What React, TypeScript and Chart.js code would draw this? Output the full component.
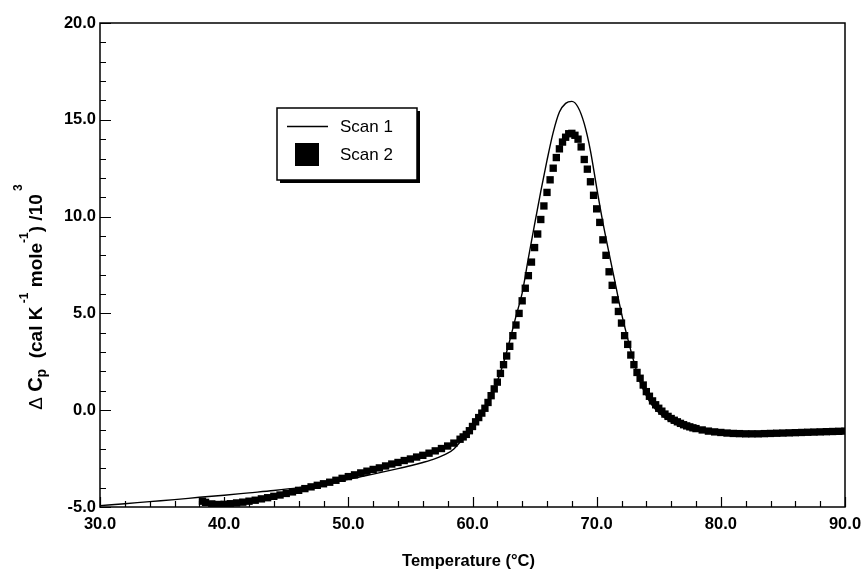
import React, { useEffect, useRef } from "react";
import { Chart, registerables } from "chart.js";

Chart.register(...registerables);

// ---- data ----
const scan1Temp = [30, 32, 34, 36, 38, 40, 42, 44, 46, 48, 50, 52, 54, 55, 56, 57, 58, 58.5, 59, 59.5, 60, 60.5, 61, 61.5, 62, 62.5, 63, 63.5, 64, 64.5, 65, 65.5, 66, 66.5, 67, 67.5, 68, 68.5, 69, 69.5, 70, 70.5, 71, 71.5, 72, 72.5, 73, 73.5, 74, 74.5, 75, 75.5, 76, 77, 78, 79, 80, 82, 84, 86, 88, 90];
const scan1Cp = [-4.93, -4.83, -4.72, -4.62, -4.5, -4.39, -4.27, -4.15, -4.0, -3.8, -3.57, -3.3, -3.02, -2.87, -2.7, -2.5, -2.22, -2.0, -1.65, -1.25, -0.8, -0.3, 0.2, 0.8, 1.5, 2.45, 3.6, 4.85, 6.05, 7.85, 9.6, 11.3, 12.9, 14.35, 15.4, 15.85, 15.95, 15.65, 14.8, 13.4, 11.5, 9.7, 8.1, 6.55, 5.0, 3.7, 2.5, 1.45, 0.75, 0.22, -0.12, -0.4, -0.6, -0.88, -1.03, -1.12, -1.18, -1.23, -1.2, -1.16, -1.12, -1.08];

const scan2Temp = [38.25, 38.5, 39, 39.5, 40, 40.5, 41, 41.5, 42, 42.5, 43, 43.5, 44, 44.5, 45, 45.5, 46, 46.5, 47, 47.5, 48, 48.5, 49, 49.5, 50, 50.5, 51, 51.5, 52, 52.5, 53, 53.5, 54, 54.5, 55, 55.5, 56, 56.5, 57, 57.5, 58, 58.5, 59, 59.25, 59.5, 59.75, 60, 60.25, 60.5, 60.75, 61, 61.25, 61.5, 61.75, 62, 62.25, 62.5, 62.75, 63, 63.25, 63.5, 63.75, 64, 64.25, 64.5, 64.75, 65, 65.25, 65.5, 65.75, 66, 66.25, 66.5, 66.75, 67, 67.25, 67.5, 67.75, 68, 68.25, 68.5, 68.75, 69, 69.25, 69.5, 69.75, 70, 70.25, 70.5, 70.75, 71, 71.25, 71.5, 71.75, 72, 72.25, 72.5, 72.75, 73, 73.25, 73.5, 73.75, 74, 74.25, 74.5, 74.75, 75, 75.25, 75.5, 75.75, 76, 76.25, 76.5, 76.75, 77, 77.25, 77.5, 77.75, 78, 78.5, 79, 79.5, 80, 80.5, 81, 81.5, 82, 82.5, 83, 83.5, 84, 84.5, 85, 85.5, 86, 86.5, 87, 87.5, 88, 88.5, 89, 89.5, 90];
const scan2Cp = [-4.7, -4.76, -4.84, -4.87, -4.86, -4.83, -4.79, -4.75, -4.7, -4.65, -4.58, -4.52, -4.45, -4.38, -4.3, -4.22, -4.14, -4.05, -3.96, -3.88, -3.8, -3.72, -3.62, -3.52, -3.43, -3.34, -3.24, -3.15, -3.06, -2.98, -2.88, -2.78, -2.7, -2.6, -2.52, -2.42, -2.33, -2.22, -2.1, -1.98, -1.85, -1.7, -1.5, -1.38, -1.25, -1.06, -0.84, -0.6, -0.38, -0.15, 0.1, 0.4, 0.75, 1.1, 1.45, 1.9, 2.35, 2.8, 3.3, 3.85, 4.4, 5.0, 5.65, 6.3, 6.95, 7.65, 8.4, 9.1, 9.85, 10.55, 11.25, 11.9, 12.5, 13.05, 13.5, 13.85, 14.1, 14.28, 14.3, 14.2, 14.0, 13.6, 12.95, 12.45, 11.8, 11.1, 10.4, 9.7, 8.8, 8.0, 7.15, 6.45, 5.7, 5.1, 4.5, 3.85, 3.4, 2.85, 2.35, 1.95, 1.65, 1.3, 0.96, 0.72, 0.48, 0.28, 0.1, -0.05, -0.2, -0.32, -0.43, -0.52, -0.6, -0.68, -0.75, -0.81, -0.86, -0.91, -0.95, -1.02, -1.08, -1.12, -1.15, -1.18, -1.2, -1.21, -1.22, -1.22, -1.22, -1.21, -1.2, -1.19, -1.18, -1.17, -1.16, -1.15, -1.14, -1.13, -1.12, -1.11, -1.1, -1.09, -1.08];

const xMin = 30;
const xMax = 90;
const xMajorStep = 10;
const xMinorStep = 2;
const yMin = -5;
const yMax = 20;
const yMajorStep = 5;
const yMinorStep = 1;

const legendLabels = ["Scan 1", "Scan 2"];
const xTitle = "Temperature (\u00B0C)";

const FONT = "'Liberation Sans', Arial, Helvetica, sans-serif";

const framePlugin = {
  id: "frameAndExtras",
  afterDraw(chart: any) {
    const { ctx, chartArea: a, scales } = chart;
    const xs = scales.x;
    const ys = scales.y;
    ctx.save();
    ctx.strokeStyle = "#000";
    ctx.lineWidth = 1.5;
    ctx.strokeRect(a.left, a.top, a.right - a.left, a.bottom - a.top);

    // inward ticks
    ctx.lineWidth = 1.2;
    ctx.beginPath();
    for (let v = xMin; v <= xMax + 1e-9; v += xMinorStep) {
      const px = Math.round(xs.getPixelForValue(v)) + 0.5;
      const major = Math.abs(v % xMajorStep) < 1e-9;
      ctx.moveTo(px, a.bottom);
      ctx.lineTo(px, a.bottom - (major ? 10 : 6));
    }
    for (let v = yMin; v <= yMax + 1e-9; v += yMinorStep) {
      const py = Math.round(ys.getPixelForValue(v)) + 0.5;
      const major = Math.abs(v % yMajorStep) < 1e-9;
      ctx.moveTo(a.left, py);
      ctx.lineTo(a.left + (major ? 11 : 6), py);
    }
    ctx.stroke();

    // legend box
    const lx = 277, ly = 108, lw = 140, lh = 72;
    ctx.fillStyle = "#000";
    ctx.fillRect(lx + lw, ly + 3, 3, lh);
    ctx.fillRect(lx + 3, ly + lh, lw, 3);
    ctx.fillStyle = "#fff";
    ctx.fillRect(lx, ly, lw, lh);
    ctx.lineWidth = 1.5;
    ctx.strokeRect(lx, ly, lw, lh);
    ctx.beginPath();
    ctx.moveTo(287, 126.5);
    ctx.lineTo(328, 126.5);
    ctx.lineWidth = 1.3;
    ctx.stroke();
    ctx.fillStyle = "#000";
    ctx.fillRect(295, 143, 24, 23);
    ctx.font = `17px ${FONT}`;
    ctx.textBaseline = "middle";
    ctx.textAlign = "left";
    ctx.fillText(legendLabels[0], 340, 127);
    ctx.fillText(legendLabels[1], 340, 155);

    // y-axis title with sub/superscripts
    const parts = [
      { t: "\u0394 ", size: 19, bold: false, shift: 0 },
      { t: "C", size: 20, bold: true, shift: 0 },
      { t: "p", size: 14, bold: true, shift: 4 },
      { t: "  (cal K", size: 19, bold: true, shift: 0 },
      { t: " -1", size: 12, bold: true, shift: -14 },
      { t: " mole", size: 19, bold: true, shift: 0 },
      { t: "-1", size: 12, bold: true, shift: -14 },
      { t: ") /10", size: 19, bold: true, shift: 0 },
      { t: " 3", size: 12, bold: true, shift: -20 },
    ];
    let total = 0;
    const widths: number[] = [];
    for (const p of parts) {
      ctx.font = `${p.bold ? "bold " : ""}${p.size}px ${FONT}`;
      const w = ctx.measureText(p.t).width;
      widths.push(w);
      total += w;
    }
    ctx.save();
    ctx.translate(42, 297);
    ctx.rotate(-Math.PI / 2);
    ctx.textAlign = "left";
    ctx.textBaseline = "alphabetic";
    let cx = -total / 2;
    parts.forEach((p, i) => {
      ctx.font = `${p.bold ? "bold " : ""}${p.size}px ${FONT}`;
      ctx.fillText(p.t, cx, p.shift);
      cx += widths[i];
    });
    ctx.restore();

    // x-axis title
    ctx.font = `bold 16.5px ${FONT}`;
    ctx.textAlign = "center";
    ctx.textBaseline = "middle";
    ctx.fillText(xTitle, (a.left + a.right) / 2 - 4, 561);
    ctx.restore();
  },
};

export default function App() {
  const ref = useRef<HTMLCanvasElement | null>(null);
  useEffect(() => {
    document.body.style.margin = "0";
    const canvas = ref.current;
    if (!canvas) return;
    const chart = new Chart(canvas, {
      type: "scatter",
      data: {
        datasets: [
          {
            label: legendLabels[0],
            data: scan1Temp.map((t, i) => ({ x: t, y: scan1Cp[i] })),
            showLine: true,
            borderColor: "#000",
            borderWidth: 1.4,
            pointRadius: 0,
            tension: 0.4,
            cubicInterpolationMode: "monotone",
          },
          {
            label: legendLabels[1],
            data: scan2Temp.map((t, i) => ({ x: t, y: scan2Cp[i] })),
            showLine: false,
            pointStyle: "rect",
            pointRadius: 5.2,
            pointBorderWidth: 0,
            pointBackgroundColor: "#000",
            borderColor: "#000",
          },
        ],
      },
      options: {
        responsive: false,
        animation: false,
        layout: { padding: { left: 0, top: 23, right: 18, bottom: 0 } },
        plugins: {
          legend: { display: false },
          tooltip: { enabled: false },
          title: { display: false },
        },
        scales: {
          x: {
            type: "linear",
            min: xMin,
            max: xMax,
            afterFit: (s: any) => {
              s.height = 62;
              s.paddingLeft = 0;
              s.paddingRight = 0;
            },
            ticks: {
              stepSize: xMajorStep,
              padding: 8,
              color: "#000",
              font: { family: FONT, size: 16.5, weight: "bold" },
              callback: (v: any) => Number(v).toFixed(1),
              maxRotation: 0,
            },
            grid: { display: false, drawTicks: false },
            border: { display: false },
          },
          y: {
            type: "linear",
            min: yMin,
            max: yMax,
            afterFit: (s: any) => {
              s.width = 100;
              s.paddingTop = 0;
              s.paddingBottom = 0;
            },
            ticks: {
              stepSize: yMajorStep,
              padding: 4,
              color: "#000",
              font: { family: FONT, size: 16.5, weight: "bold" },
              callback: (v: any) => Number(v).toFixed(1),
            },
            grid: { display: false, drawTicks: false },
            border: { display: false },
          },
        },
      },
      plugins: [framePlugin],
    } as any);
    return () => chart.destroy();
  }, []);
  return (
    <div style={{ position: "absolute", left: 0, top: 0, width: 863, height: 569, background: "#fff" }}>
      <canvas ref={ref} width={863} height={569} style={{ width: 863, height: 569, display: "block" }} />
    </div>
  );
}
